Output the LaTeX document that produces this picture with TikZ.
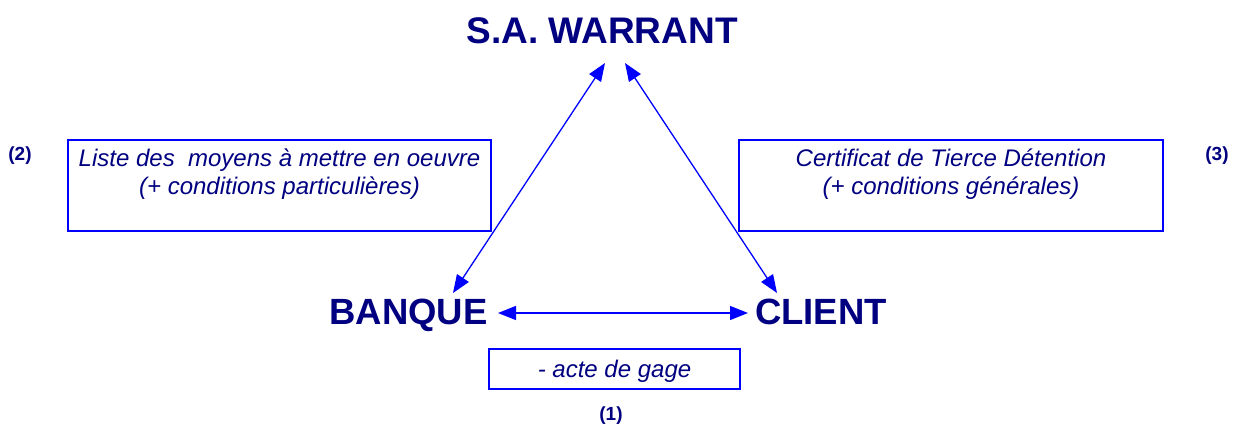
\documentclass[tikz,border=0pt]{standalone}
\usepackage{fontspec}
\setmainfont{Liberation Sans}
\usetikzlibrary{arrows.meta}
\definecolor{navytxt}{HTML}{000080}
\definecolor{bline}{HTML}{0000FF}
\begin{document}
\begin{tikzpicture}[x=1pt,y=-1pt,
  big/.style={font=\fontsize{36.5}{40}\selectfont\bfseries, text=navytxt, inner sep=0pt, anchor=base},
  num/.style={font=\fontsize{19}{21}\selectfont\bfseries, text=navytxt, inner sep=0pt},
  itxt/.style={font=\fontsize{24}{28}\selectfont\itshape, text=navytxt, inner sep=0pt, anchor=base},
  frame/.style={draw=bline, line width=1.5pt},
  link/.style={draw=bline, line width=1.3pt, {Triangle[length=18pt,width=14pt]}-{Triangle[length=18pt,width=14pt]}}]
\useasboundingbox (0,0) rectangle (1238,429);
% main nodes
\node[big, font=\fontsize{37}{40}\selectfont\bfseries] (sa) at (602,43) {S.A. WARRANT};
\node[big] (banque) at (408.5,324) {BANQUE};
\node[big] (client) at (821,324) {CLIENT};
% boxes
\draw[frame] (68,140) rectangle (491,231);
\draw[frame] (739,140) rectangle (1163,231);
\draw[frame] (489,349) rectangle (740,389);
\node[itxt] (l1) at (279.5,166) {Liste des\ \ moyens à mettre en oeuvre};
\node[itxt] (l2) at (279.5,194) {(+ conditions particulières)};
\node[itxt] (r1) at (951,166) {Certificat de Tierce Détention};
\node[itxt] (r2) at (951,194) {(+ conditions générales)};
\node[itxt] (b1) at (614.5,377) {- acte de gage};
% numbers
\node[num] (n2) at (20,156) {(2)};
\node[num] (n3) at (1217,156) {(3)};
\node[num] (n1) at (611,416) {(1)};
% arrow ends
\coordinate (saL) at (605,63);
\coordinate (saR) at (625,63);
\coordinate (bT) at (453,293);
\coordinate (cT) at (777,293);
\coordinate (bR) at (498,313);
\coordinate (cL) at (748,313);
\draw[link] (bT) -- (saL);
\draw[link] (cT) -- (saR);
\draw[link] (bR) -- (cL);
\end{tikzpicture}
\end{document}
